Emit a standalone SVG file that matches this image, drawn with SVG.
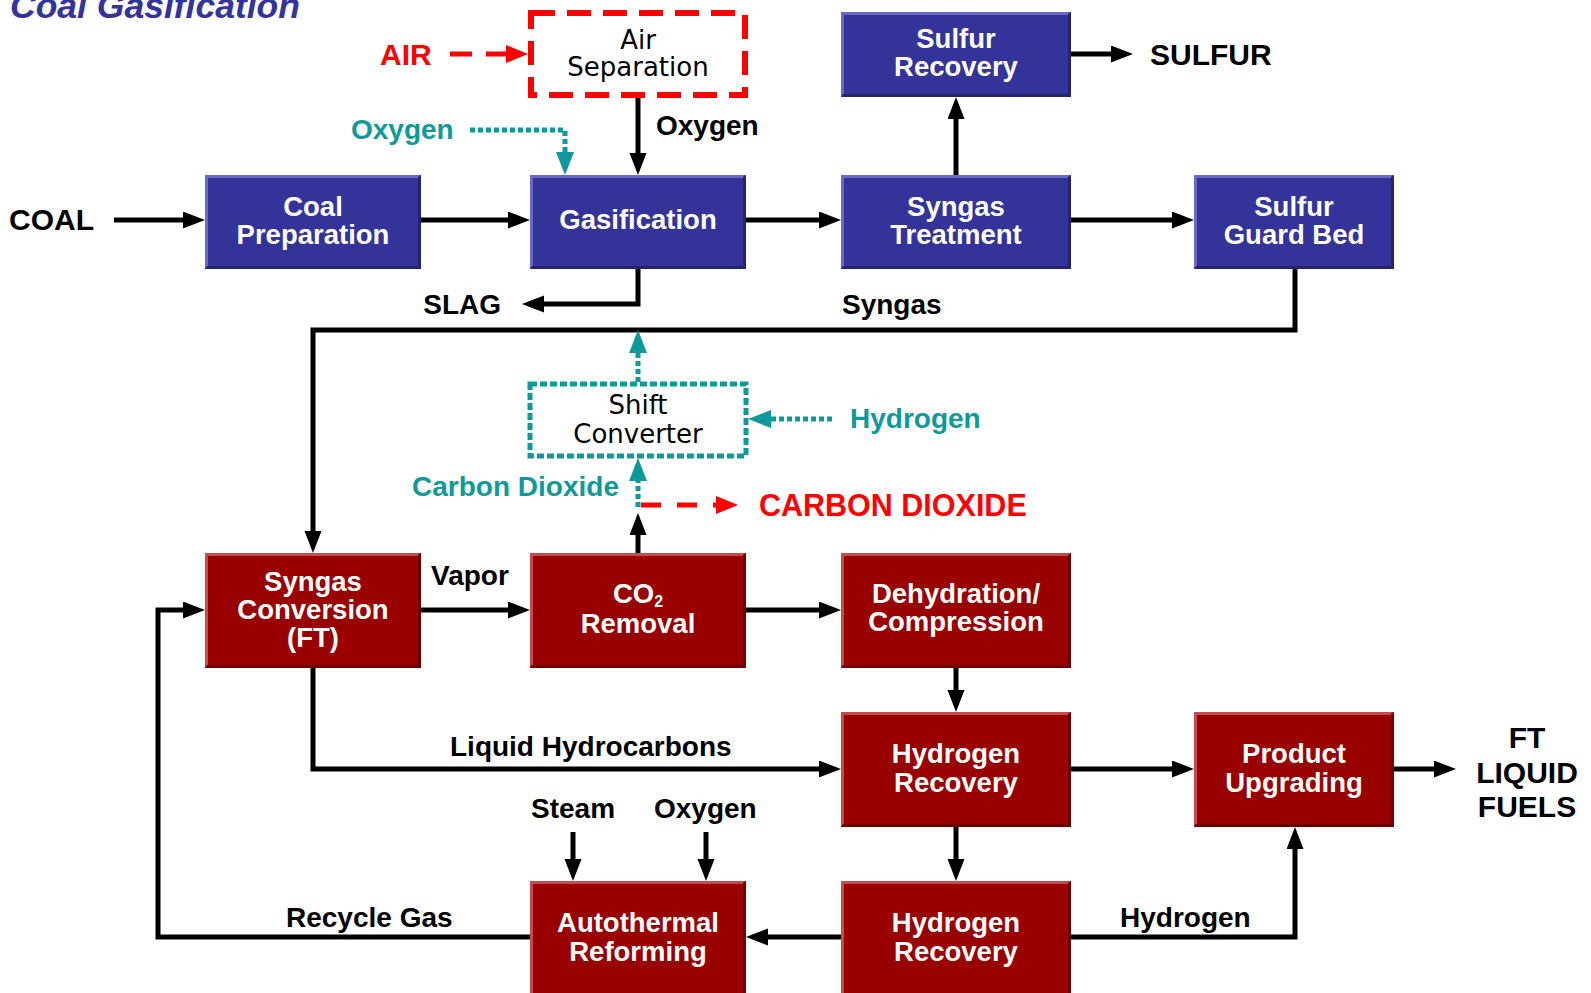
<svg xmlns="http://www.w3.org/2000/svg" width="1591" height="993" viewBox="0 0 1591 993">
<style>
.bb{fill:#333399}
.rb{fill:#990000}
.bhl{fill:none;stroke:#6a6ac2;stroke-width:3}
.bsh{fill:none;stroke:#232370;stroke-width:3}
.rhl{fill:none;stroke:#c24d4d;stroke-width:3}
.rsh{fill:none;stroke:#6a0000;stroke-width:3}
.bt{font-family:"Liberation Sans",Arial,sans-serif;font-weight:bold;font-size:27.5px;fill:#fff;text-anchor:middle}
.lb{font-family:"Liberation Sans",Arial,sans-serif;font-weight:bold;font-size:28px;fill:#000}
.cp{font-family:"Liberation Sans",Arial,sans-serif;font-weight:bold;font-size:30px;fill:#000}
.tl{fill:#0f9999}
.rd{fill:#ff0000}
.rg{font-family:"DejaVu Sans",Verdana,sans-serif;font-size:26px;fill:#000;text-anchor:middle}
.k{fill:none;stroke:#000;stroke-width:5}
.t{fill:none;stroke:#0f9999;stroke-width:5;stroke-dasharray:5 3}
.r{fill:none;stroke:#ff0000;stroke-width:5;stroke-dasharray:22 14}
</style>
<defs>
<marker id="ak" markerUnits="userSpaceOnUse" markerWidth="24" markerHeight="18" refX="14" refY="8.5" orient="auto"><path d="M0,0 L22,8.5 L0,17 z" fill="#000"/></marker>
<marker id="at" markerUnits="userSpaceOnUse" markerWidth="24" markerHeight="20" refX="15" refY="9" orient="auto"><path d="M0,0 L23,9 L0,18 z" fill="#0f9999"/></marker>
<marker id="ar" markerUnits="userSpaceOnUse" markerWidth="24" markerHeight="20" refX="14" refY="9" orient="auto"><path d="M0,0 L22,9 L0,18 z" fill="#ff0000"/></marker>
</defs>
<rect width="1591" height="993" fill="#fff"/>
<text x="10" y="18" font-family="Liberation Sans, Arial, sans-serif" font-weight="bold" font-style="italic" font-size="35.5" fill="#333399">Coal Gasification</text>

<g id="connectors">
<path class="k" d="M114,220 H197" marker-end="url(#ak)"/>
<path class="k" d="M421,220 H522" marker-end="url(#ak)"/>
<path class="k" d="M746,220 H833" marker-end="url(#ak)"/>
<path class="k" d="M1071,220 H1186" marker-end="url(#ak)"/>
<path class="k" d="M956,175 V105" marker-end="url(#ak)"/>
<path class="k" d="M1071,54 H1125" marker-end="url(#ak)"/>
<path class="k" d="M638,97 V167" marker-end="url(#ak)"/>
<path class="k" d="M638,269 V304 H530" marker-end="url(#ak)"/>
<path class="k" d="M1295,269 V330 H313 V545" marker-end="url(#ak)"/>
<path class="k" d="M421,610 H522" marker-end="url(#ak)"/>
<path class="k" d="M746,610 H833" marker-end="url(#ak)"/>
<path class="k" d="M956,668 V704" marker-end="url(#ak)"/>
<path class="k" d="M313,668 V769 H833" marker-end="url(#ak)"/>
<path class="k" d="M1071,769 H1186" marker-end="url(#ak)"/>
<path class="k" d="M1394,769 H1448" marker-end="url(#ak)"/>
<path class="k" d="M956,827 V873" marker-end="url(#ak)"/>
<path class="k" d="M1071,937 H1295 V835" marker-end="url(#ak)"/>
<path class="k" d="M841,937 H754" marker-end="url(#ak)"/>
<path class="k" d="M530,937 H158 V610 H197" marker-end="url(#ak)"/>
<path class="k" d="M573,832 V873" marker-end="url(#ak)"/>
<path class="k" d="M706,832 V873" marker-end="url(#ak)"/>
<path class="k" d="M638,553 V521" marker-end="url(#ak)"/>
<path class="t" d="M470,130 H565 V167" marker-end="url(#at)"/>
<path class="t" d="M638,382 V338" marker-end="url(#at)"/>
<path class="t" d="M832,419 H756" marker-end="url(#at)"/>
<path class="t" d="M638,507 V466" marker-end="url(#at)"/>
<path class="r" d="M450,54 H520" marker-end="url(#ar)"/>
<path class="r" d="M641,505 H730" style="stroke-dasharray:20 16" marker-end="url(#ar)"/>
</g>

<g id="air-separation">
<rect x="531" y="13" width="214" height="82" fill="#fff" stroke="#ff0000" stroke-width="6" stroke-dasharray="24 12"/>
<text class="rg" x="638" y="49">Air</text>
<text class="rg" x="638" y="76">Separation</text>
</g>
<g id="sulfur-recovery">
<rect class="bb" x="841" y="12" width="230" height="85"/>
<path class="bhl" d="M842.5,95.5 V13.5 H1069.5"/><path class="bsh" d="M842.5,95.5 H1069.5 V13.5"/>
<text class="bt" x="956" y="48">Sulfur</text>
<text class="bt" x="956" y="76">Recovery</text>
</g>
<g id="coal-preparation">
<rect class="bb" x="205" y="175" width="216" height="94"/>
<path class="bhl" d="M206.5,267.5 V176.5 H419.5"/><path class="bsh" d="M206.5,267.5 H419.5 V176.5"/>
<text class="bt" x="313" y="216">Coal</text>
<text class="bt" x="313" y="244">Preparation</text>
</g>
<g id="gasification">
<rect class="bb" x="530" y="175" width="216" height="94"/>
<path class="bhl" d="M531.5,267.5 V176.5 H744.5"/><path class="bsh" d="M531.5,267.5 H744.5 V176.5"/>
<text class="bt" x="638" y="229">Gasification</text>
</g>
<g id="syngas-treatment">
<rect class="bb" x="841" y="175" width="230" height="94"/>
<path class="bhl" d="M842.5,267.5 V176.5 H1069.5"/><path class="bsh" d="M842.5,267.5 H1069.5 V176.5"/>
<text class="bt" x="956" y="216">Syngas</text>
<text class="bt" x="956" y="244">Treatment</text>
</g>
<g id="sulfur-guard-bed">
<rect class="bb" x="1194" y="175" width="200" height="94"/>
<path class="bhl" d="M1195.5,267.5 V176.5 H1392.5"/><path class="bsh" d="M1195.5,267.5 H1392.5 V176.5"/>
<text class="bt" x="1294" y="216">Sulfur</text>
<text class="bt" x="1294" y="244">Guard Bed</text>
</g>
<g id="shift-converter">
<rect x="530" y="384" width="216" height="72" fill="none" stroke="#0f9999" stroke-width="5" stroke-dasharray="7 3"/>
<text class="rg" x="638" y="414">Shift</text>
<text class="rg" x="638" y="443">Converter</text>
</g>
<g id="syngas-conversion">
<rect class="rb" x="205" y="553" width="216" height="115"/>
<path class="rhl" d="M206.5,666.5 V554.5 H419.5"/><path class="rsh" d="M206.5,666.5 H419.5 V554.5"/>
<text class="bt" x="313" y="591">Syngas</text>
<text class="bt" x="313" y="619">Conversion</text>
<text class="bt" x="313" y="647">(FT)</text>
</g>
<g id="co2-removal">
<rect class="rb" x="530" y="553" width="216" height="115"/>
<path class="rhl" d="M531.5,666.5 V554.5 H744.5"/><path class="rsh" d="M531.5,666.5 H744.5 V554.5"/>
<text class="bt" x="638" y="603">CO<tspan font-size="16" dy="4">2</tspan></text>
<text class="bt" x="638" y="633">Removal</text>
</g>
<g id="dehydration-compression">
<rect class="rb" x="841" y="553" width="230" height="115"/>
<path class="rhl" d="M842.5,666.5 V554.5 H1069.5"/><path class="rsh" d="M842.5,666.5 H1069.5 V554.5"/>
<text class="bt" x="956" y="603">Dehydration/</text>
<text class="bt" x="956" y="631">Compression</text>
</g>
<g id="hydrogen-recovery-1">
<rect class="rb" x="841" y="712" width="230" height="115"/>
<path class="rhl" d="M842.5,825.5 V713.5 H1069.5"/><path class="rsh" d="M842.5,825.5 H1069.5 V713.5"/>
<text class="bt" x="956" y="763">Hydrogen</text>
<text class="bt" x="956" y="792">Recovery</text>
</g>
<g id="product-upgrading">
<rect class="rb" x="1194" y="712" width="200" height="115"/>
<path class="rhl" d="M1195.5,825.5 V713.5 H1392.5"/><path class="rsh" d="M1195.5,825.5 H1392.5 V713.5"/>
<text class="bt" x="1294" y="763">Product</text>
<text class="bt" x="1294" y="792">Upgrading</text>
</g>
<g id="autothermal-reforming">
<rect class="rb" x="530" y="881" width="216" height="125"/>
<path class="rhl" d="M531.5,1006 V882.5 H744.5"/><path class="rsh" d="M744.5,1006 V882.5"/>
<text class="bt" x="638" y="932">Autothermal</text>
<text class="bt" x="638" y="961">Reforming</text>
</g>
<g id="hydrogen-recovery-2">
<rect class="rb" x="841" y="881" width="230" height="125"/>
<path class="rhl" d="M842.5,1006 V882.5 H1069.5"/><path class="rsh" d="M1069.5,1006 V882.5"/>
<text class="bt" x="956" y="932">Hydrogen</text>
<text class="bt" x="956" y="961">Recovery</text>
</g>

<g id="labels">
<text class="cp" x="9" y="230">COAL</text>
<text class="cp rd" x="380" y="65">AIR</text>
<text class="cp" x="1150" y="65">SULFUR</text>
<text class="lb" x="656" y="135">Oxygen</text>
<text class="lb tl" x="351" y="139">Oxygen</text>
<text class="lb" x="501" y="314" text-anchor="end">SLAG</text>
<text class="lb" x="842" y="314">Syngas</text>
<text class="lb tl" x="850" y="428">Hydrogen</text>
<text class="lb tl" x="619" y="496" text-anchor="end">Carbon Dioxide</text>
<text class="lb rd" x="759" y="516" style="font-size:30.5px">CARBON DIOXIDE</text>
<text class="lb" x="431" y="585">Vapor</text>
<text class="lb" x="450" y="756">Liquid Hydrocarbons</text>
<text class="lb" x="531" y="818">Steam</text>
<text class="lb" x="654" y="818">Oxygen</text>
<text class="lb" x="286" y="927">Recycle Gas</text>
<text class="lb" x="1120" y="927">Hydrogen</text>
<text class="cp" x="1527" y="748" text-anchor="middle">FT</text>
<text class="cp" x="1527" y="783" text-anchor="middle">LIQUID</text>
<text class="cp" x="1527" y="817" text-anchor="middle">FUELS</text>
</g>
</svg>
